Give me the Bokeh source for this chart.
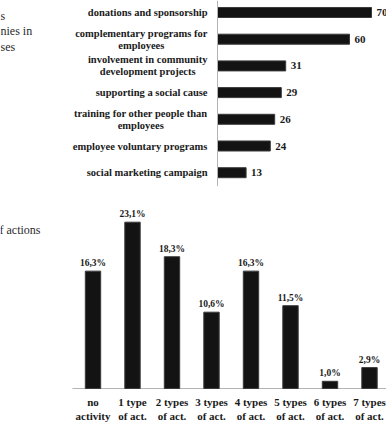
from bokeh.plotting import figure
from bokeh.models import Range1d, Span, Label, ColumnDataSource
from bokeh.layouts import column
from bokeh.embed import file_html
from bokeh.resources import INLINE
from bokeh.core.properties import value
import numpy as np

# --- data -------------------------------------------------------------
csr_actions = [
    "donations and sponsorship",
    "complementary programs for\nemployees",
    "involvement in community\ndevelopment projects",
    "supporting a social cause",
    "training for other people than\nemployees",
    "employee voluntary programs",
    "social marketing campaign",
]
csr_counts = [70, 60, 31, 29, 26, 24, 13]

activity_levels = [
    "no\nactivity",
    "1 type\nof act.",
    "2 types\nof act.",
    "3 types\nof act.",
    "4 types\nof act.",
    "5 types\nof act.",
    "6 types\nof act.",
    "7 types\nof act.",
]
activity_shares = [16.3, 23.1, 18.3, 10.6, 16.3, 11.5, 1.0, 2.9]

caption_top = ["s", "nies in", "ses"]
caption_bottom = ["f actions"]

# --- styling ----------------------------------------------------------
SERIF = "Liberation Serif"
INK = "#1a1a1a"
BAR_FILL = "#131313"
BAR_LINE = "#3a3a3a"
AXIS_GREY = "#b4b4b4"

# Times-Bold advance widths (1/1000 em) for centring multi-line labels
BOLD_W = {" ": 250, "a": 500, "b": 556, "c": 444, "d": 556, "e": 444, "f": 333,
          "g": 500, "h": 556, "i": 278, "j": 333, "k": 556, "l": 278, "m": 833,
          "n": 556, "o": 500, "p": 556, "q": 556, "r": 444, "s": 389, "t": 333,
          "u": 556, "v": 500, "w": 722, "x": 500, "y": 500, "z": 444, ".": 250}


def block_width(text, size_px):
    return max(sum(BOLD_W.get(c, 500) for c in line) for line in text.split("\n")) * size_px / 1000.0


def bare(p):
    p.axis.visible = False
    p.grid.visible = False
    p.outline_line_color = None
    p.background_fill_color = "white"
    p.border_fill_color = "white"
    return p


# --- top: horizontal bars --------------------------------------------
W = 386
TOP_H = 186
hx = 2.2          # pixels per count
hx0 = 217         # pixel position of the zero line
hy = 26.7         # pixels per row
hy0 = 12          # pixel centre of first row

top = bare(figure(width=W, height=TOP_H, output_backend="svg", toolbar_location=None,
                  min_border=0,
                  x_range=Range1d(-hx0 / hx, (W - hx0) / hx),
                  y_range=Range1d((TOP_H - hy0) / hy, -hy0 / hy)))

rows = np.arange(len(csr_actions))
label_size = 10.5
src_top = ColumnDataSource(dict(
    y=rows, count=csr_counts, zero=[0] * len(rows),
    action=csr_actions, count_txt=[str(v) for v in csr_counts],
    xoff=[-(10 + block_width(a, label_size) / 2) for a in csr_actions],
))

top.add_layout(Span(location=0, dimension="height", line_color=AXIS_GREY, line_width=1))
top.hbar(y="y", left="zero", right="count", height=0.375, source=src_top,
         fill_color=BAR_FILL, line_color=BAR_LINE, line_width=1)
top.text(x="count", y="y", text="count_txt", source=src_top, x_offset=5,
         text_align="left", text_baseline="middle", text_color=INK,
         text_font=value(SERIF), text_font_style="bold", text_font_size="11px")
top.text(x="zero", y="y", text="action", source=src_top, x_offset="xoff",
         text_align="center", text_baseline="middle", text_color=INK,
         text_font=value(SERIF), text_font_style="bold", text_font_size="10.5px",
         text_line_height=1.1)

for i, frag in enumerate(caption_top):
    top.add_layout(Label(x=0, y=TOP_H - 15 - 15.5 * i, x_units="screen", y_units="screen",
                         text=frag, text_font=SERIF, text_font_size="12px",
                         text_color="#2a2a2a", text_baseline="middle"))

# --- bottom: vertical bars -------------------------------------------
BOT_H = 239
vx = 39.5         # pixels per category
vx0 = 92.5        # pixel centre of first category
vy = 7.2          # pixels per percent
base = 202        # pixel row of the baseline

bot = bare(figure(width=W, height=BOT_H, output_backend="svg", toolbar_location=None,
                  min_border=0,
                  x_range=Range1d(-vx0 / vx, (W - vx0) / vx),
                  y_range=Range1d(-(BOT_H - base) / vy, base / vy)))

cols = np.arange(len(activity_levels))
src_bot = ColumnDataSource(dict(
    x=cols, share=activity_shares, zero=[0] * len(cols),
    level=activity_levels,
    share_txt=[f"{v:.1f}%".replace(".", ",") for v in activity_shares],
))

axis_start = -0.52
bot.segment(x0=[axis_start], y0=[0], x1=[(W - vx0) / vx], y1=[0],
            line_color=AXIS_GREY, line_width=1.2)
bot.vbar(x="x", bottom="zero", top="share", width=0.39, source=src_bot,
         fill_color=BAR_FILL, line_color=BAR_LINE, line_width=1)
bot.text(x="x", y="share", text="share_txt", source=src_bot, y_offset=-3,
         text_align="center", text_baseline="bottom", text_color=INK,
         text_font=value(SERIF), text_font_style="bold", text_font_size="9.5px")
bot.text(x="x", y="zero", text="level", source=src_bot, y_offset=20.5,
         text_align="center", text_baseline="middle", text_color=INK,
         text_font=value(SERIF), text_font_style="bold", text_font_size="11px",
         text_line_height=1.18)

for i, frag in enumerate(caption_bottom):
    bot.add_layout(Label(x=-1, y=BOT_H - 43 - 15.5 * i, x_units="screen", y_units="screen",
                         text=frag, text_font=SERIF, text_font_size="12px",
                         text_color="#2a2a2a", text_baseline="middle"))

layout = column(top, bot, spacing=0)
open("out.html", "w").write(file_html(layout, INLINE))
